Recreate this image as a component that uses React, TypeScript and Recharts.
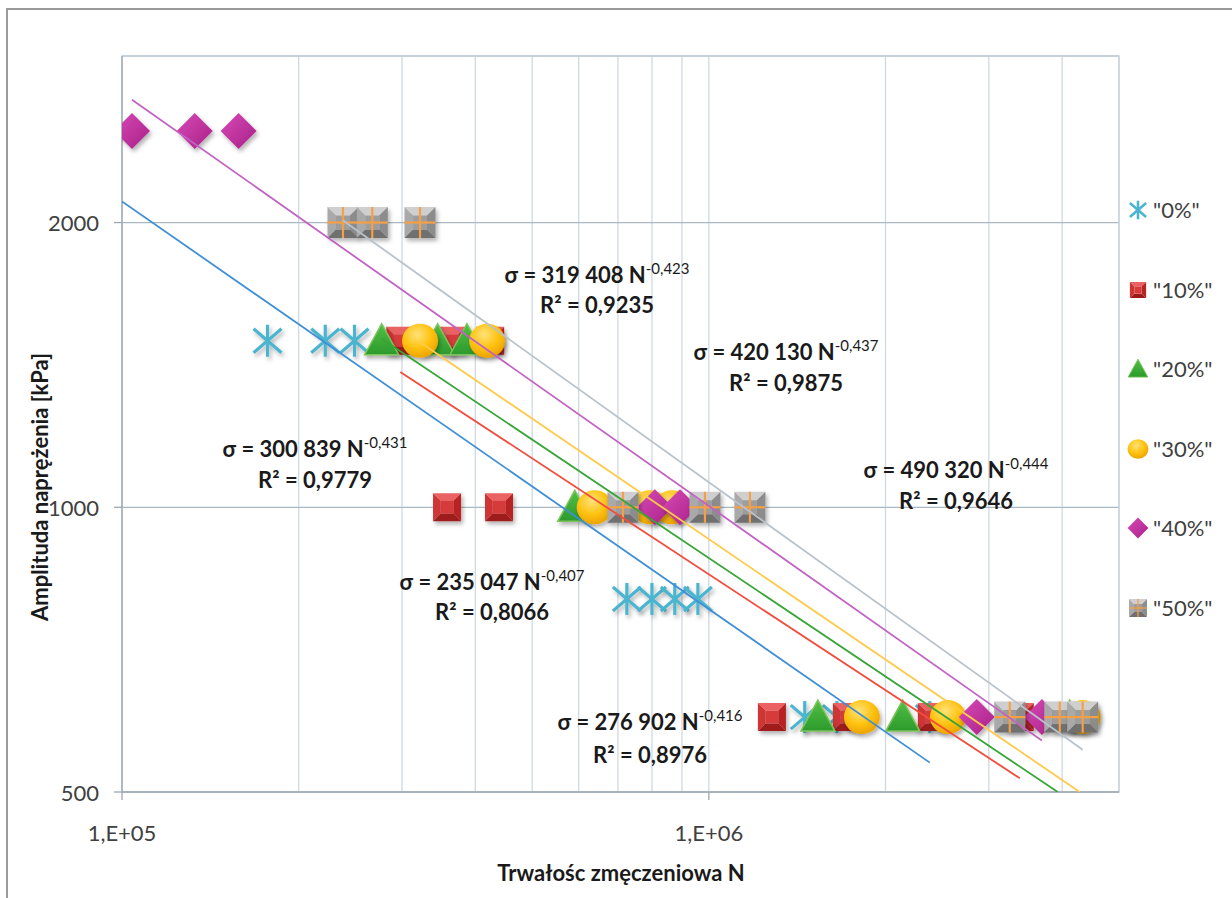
import React from 'react';
import { ScatterChart, Scatter, XAxis, YAxis, CartesianGrid, ReferenceArea } from 'recharts';

// ---------- data ----------
const seriesNames = ['"0%"', '"10%"', '"20%"', '"30%"', '"40%"', '"50%"'];

const p0 = [
  { n: 177000, s: 1500 }, { n: 222000, s: 1500 }, { n: 249000, s: 1500 },
  { n: 725000, s: 800 }, { n: 800000, s: 800 }, { n: 875000, s: 800 }, { n: 958000, s: 800 },
  { n: 1457000, s: 600 }, { n: 1653000, s: 600 }, { n: 2380000, s: 600 },
];
const p10 = [
  { n: 298000, s: 1500 }, { n: 365000, s: 1500 }, { n: 424000, s: 1500 },
  { n: 358000, s: 1000 }, { n: 439000, s: 1000 },
  { n: 1281000, s: 600 }, { n: 1719000, s: 600 }, { n: 2399000, s: 600 }, { n: 3387000, s: 600 },
];
const p20 = [
  { n: 277000, s: 1500 }, { n: 345000, s: 1500 }, { n: 387000, s: 1500 },
  { n: 591000, s: 1000 },
  { n: 1534000, s: 600 }, { n: 2140000, s: 600 }, { n: 4121000, s: 600 },
];
const p30 = [
  { n: 322000, s: 1500 }, { n: 419000, s: 1500 },
  { n: 639000, s: 1000 }, { n: 793000, s: 1000 }, { n: 865000, s: 1000 },
  { n: 1823000, s: 600 }, { n: 2555000, s: 600 }, { n: 4336000, s: 600 },
];
const p40 = [
  { n: 104000, s: 2500 }, { n: 133000, s: 2500 }, { n: 158000, s: 2500 },
  { n: 809000, s: 1000 }, { n: 893000, s: 1000 },
  { n: 2861000, s: 600 }, { n: 3694000, s: 600 },
];
const p50 = [
  { n: 238000, s: 2000 }, { n: 267000, s: 2000 }, { n: 322000, s: 2000 },
  { n: 714000, s: 1000 }, { n: 985000, s: 1000 }, { n: 1175000, s: 1000 },
  { n: 3257000, s: 600 }, { n: 3963000, s: 600 }, { n: 4336000, s: 600 },
];

// power trendlines sigma = A * N^-B
const trendA = [300839, 235047, 276902, 319408, 420130, 490320];
const trendB = [0.431, 0.407, 0.416, 0.423, 0.437, 0.444];
const trendR2 = ['0,9779', '0,8066', '0,8976', '0,9235', '0,9875', '0,9646'];
const trendA_text = ['300 839', '235 047', '276 902', '319 408', '420 130', '490 320'];
const trendB_text = ['-0,431', '-0,407', '-0,416', '-0,423', '-0,437', '-0,444'];
const backcast0 = 100000; // 0% trendline forecast backward to 1E+05

const xTicks = [100000, 200000, 300000, 400000, 500000, 600000, 700000, 800000, 900000,
  1000000, 2000000, 3000000, 4000000, 5000000];
const yTicks = [500, 1000, 2000];
const X_MIN = 100000, X_MAX = 5000000, Y_MIN = 500, Y_MAX = 3000;

// ---------- styles ----------
const FONT = "Lato, 'Noto Sans', sans-serif";
const trendColors = ['#3f8fd6', '#f24d3c', '#35a535', '#ffc94a', '#c262c4', '#b9c2ca'];
const allSeries = [p0, p10, p20, p30, p40, p50];

function trendLine(pts: { n: number; s: number }[], a: number, b: number, start?: number) {
  const ns = pts.map((p) => p.n);
  const n0 = start ?? Math.min(...ns);
  const nFloor = Math.pow(a / Y_MIN, 1 / b);
  const n1 = Math.min(Math.max(...ns), nFloor);
  return [
    { n: n0, s: a * Math.pow(n0, -b) },
    { n: n1, s: a * Math.pow(n1, -b) },
  ];
}
const trends = allSeries.map((pts, i) => trendLine(pts, trendA[i], trendB[i], i === 0 ? backcast0 : undefined));

// ---------- marker shapes ----------
const Star = ({ cx, cy, k = 1 }: any) => (
  <g filter={k === 1 ? 'url(#shadow)' : undefined} stroke="#4bb5cf" strokeWidth={3.2 * (k === 1 ? 1 : 0.8)} strokeLinecap="butt">
    <line x1={cx} y1={cy - 16 * k} x2={cx} y2={cy + 16 * k} />
    <line x1={cx - 14 * k} y1={cy - 12 * k} x2={cx + 14 * k} y2={cy + 12 * k} />
    <line x1={cx - 14 * k} y1={cy + 12 * k} x2={cx + 14 * k} y2={cy - 12 * k} />
  </g>
);

const Pyramid = ({ cx, cy, h, cols }: any) => {
  const i = h * 0.45;
  return (
    <g>
      <polygon points={`${cx - h},${cy - h} ${cx + h},${cy - h} ${cx + i},${cy - i} ${cx - i},${cy - i}`} fill={cols[0]} />
      <polygon points={`${cx - h},${cy - h} ${cx - i},${cy - i} ${cx - i},${cy + i} ${cx - h},${cy + h}`} fill={cols[1]} />
      <polygon points={`${cx + h},${cy - h} ${cx + i},${cy - i} ${cx + i},${cy + i} ${cx + h},${cy + h}`} fill={cols[2]} />
      <polygon points={`${cx - h},${cy + h} ${cx + h},${cy + h} ${cx + i},${cy + i} ${cx - i},${cy + i}`} fill={cols[3]} />
      <rect x={cx - i} y={cy - i} width={2 * i} height={2 * i} fill={cols[4]} />
    </g>
  );
};

const RedSq = ({ cx, cy, k = 1 }: any) => (
  <g filter={k === 1 ? 'url(#shadow)' : undefined}>
    <Pyramid cx={cx} cy={cy} h={14 * k} cols={['#ea6262', '#cf3434', '#b82424', '#9e1a1a', '#d63a3a']} />
  </g>
);

const Tri = ({ cx, cy, k = 1 }: any) => (
  <polygon
    filter={k === 1 ? 'url(#shadow)' : undefined}
    points={`${cx},${cy - 17 * k} ${cx + 17 * k},${cy + 14 * k} ${cx - 17 * k},${cy + 14 * k}`}
    fill="url(#gGreen)" stroke="#7cc45a" strokeWidth={1.5 * k}
  />
);

const Circ = ({ cx, cy, k = 1 }: any) => (
  <ellipse filter={k === 1 ? 'url(#shadow)' : undefined} cx={cx} cy={cy} rx={18 * k} ry={17 * k} fill="url(#gYellow)" />
);

const Diam = ({ cx, cy, k = 1 }: any) => (
  <polygon
    filter={k === 1 ? 'url(#shadow)' : undefined}
    points={`${cx},${cy - 18 * k} ${cx + 18 * k},${cy} ${cx},${cy + 18 * k} ${cx - 18 * k},${cy}`}
    fill="url(#gMag)"
  />
);

const GraySq = ({ cx, cy, k = 1 }: any) => {
  const h = 15.5 * k;
  return (
    <g filter={k === 1 ? 'url(#shadow)' : undefined}>
      <Pyramid cx={cx} cy={cy} h={h} cols={['#cfcfcf', '#a9a9a9', '#8c8c8c', '#6f6f6f', '#9d9d9d']} />
      <line x1={cx - h} x2={cx + h} y1={cy} y2={cy} stroke="#f5a047" strokeWidth={2.2 * k} />
      <line x1={cx} x2={cx} y1={cy - h} y2={cy + h} stroke="#f5a047" strokeWidth={2.2 * k} />
    </g>
  );
};

const markerShapes = [Star, RedSq, Tri, Circ, Diam, GraySq];

// ---------- ticks ----------
const XTick = (props: any) => {
  const { x, y, payload } = props;
  const v = payload.value;
  const e = Math.round(Math.log10(v));
  if (Math.abs(Math.pow(10, e) - v) > 1) return <g />;
  return (
    <g>
      <line x1={x} x2={x} y1={y} y2={y + 8} stroke="#9ea7b0" strokeWidth={1.3} />
      <text x={x} y={y + 40} textAnchor="middle" dominantBaseline="central" fill="#404040" fontSize={22} fontFamily={FONT}>
        {`1,E+${String(e).padStart(2, '0')}`}
      </text>
    </g>
  );
};

const YTick = (props: any) => {
  const { x, y, payload } = props;
  return (
    <g>
      <line x1={x - 8} x2={x} y1={y} y2={y} stroke="#9ea7b0" strokeWidth={1.3} />
      <text x={x - 23} y={y} textAnchor="end" dominantBaseline="central" fill="#404040" fontSize={22} fontFamily={FONT}>
        {payload.value}
      </text>
    </g>
  );
};

// ---------- equation label layout (pixel positions of text lines) ----------
const eqPos = [
  { x: 315, y1: 449, y2: 480 },
  { x: 492, y1: 582, y2: 612 },
  { x: 650, y1: 722, y2: 755 },
  { x: 597, y1: 275, y2: 305 },
  { x: 786, y1: 352, y2: 383 },
  { x: 956, y1: 470, y2: 501 },
];

const legendIconsK = 0.58;

export default function App() {
  return (
    <div style={{ position: 'absolute', left: 0, top: 0, width: 1232, height: 898, background: '#fff', overflow: 'hidden', fontFamily: FONT }}>
      <svg width={0} height={0} style={{ position: 'absolute' }}>
        <defs>
          <filter id="shadow" x="-40%" y="-40%" width="190%" height="190%">
            <feDropShadow dx="2" dy="3" stdDeviation="2" floodColor="#000" floodOpacity="0.3" />
          </filter>
          <linearGradient id="gGreen" x1="0" y1="0" x2="0" y2="1">
            <stop offset="0" stopColor="#52c044" />
            <stop offset="1" stopColor="#2c9a2c" />
          </linearGradient>
          <radialGradient id="gYellow" cx="0.42" cy="0.32" r="0.7">
            <stop offset="0" stopColor="#ffe27a" />
            <stop offset="0.55" stopColor="#ffc312" />
            <stop offset="1" stopColor="#eba200" />
          </radialGradient>
          <linearGradient id="gMag" x1="0" y1="0" x2="1" y2="1">
            <stop offset="0" stopColor="#d84ab6" />
            <stop offset="1" stopColor="#a82088" />
          </linearGradient>
        </defs>
      </svg>

      {/* outer chart frame */}
      <div style={{ position: 'absolute', left: 6, top: 8, width: 1240, height: 900, borderLeft: '2px solid #9a9a9a', borderTop: '2px solid #9a9a9a' }} />

      <div style={{ position: 'absolute', left: 0, top: 0 }}>
        <ScatterChart width={1232} height={898} margin={{ top: 56, right: 113, bottom: 56, left: 0 }}>
          <CartesianGrid horizontal={false} stroke="#cfd9e1" strokeWidth={1.3} />
          <CartesianGrid vertical={false} stroke="#aab8c4" strokeWidth={1.3} />
          <ReferenceArea x1={X_MIN} x2={X_MAX} y1={Y_MIN} y2={Y_MAX} fill="none" stroke="#c9d3db" strokeWidth={1.3} ifOverflow="visible" />
          <XAxis
            dataKey="n" type="number" scale="log" domain={[X_MIN, X_MAX]} ticks={xTicks} interval={0}
            allowDataOverflow height={50} tickSize={0} tickMargin={0} tick={<XTick />}
            axisLine={{ stroke: '#9ea7b0', strokeWidth: 1.3 }} tickLine={false}
          />
          <YAxis
            dataKey="s" type="number" scale="log" domain={[Y_MIN, Y_MAX]} ticks={yTicks} interval={0}
            allowDataOverflow width={122} tickSize={0} tickMargin={0} tick={<YTick />}
            axisLine={{ stroke: '#9ea7b0', strokeWidth: 1.3 }} tickLine={false}
          />
          {allSeries.map((pts, i) => {
            const Shape = markerShapes[i];
            return (
              <Scatter key={'m' + i} name={seriesNames[i]} data={pts} isAnimationActive={false}
                shape={(p: any) => <Shape cx={p.cx} cy={p.cy} />} />
            );
          })}
          {trends.map((t, i) => (
            <Scatter key={'t' + i} data={t} isAnimationActive={false}
              line={{ stroke: trendColors[i], strokeWidth: 1.8 }} shape={() => <g />} legendType="none" />
          ))}
        </ScatterChart>
      </div>

      {/* equation labels */}
      {eqPos.map((p, i) => (
        <React.Fragment key={'eq' + i}>
          <div style={{ position: 'absolute', left: p.x - 150, width: 300, top: p.y1 - 15, height: 30, lineHeight: '30px', textAlign: 'center', fontWeight: 700, fontSize: 22, color: '#1a1a1a', whiteSpace: 'nowrap' }}>
            σ = {trendA_text[i]} N<span style={{ fontSize: 15, fontWeight: 400, position: 'relative', top: -9 }}>{trendB_text[i]}</span>
          </div>
          <div style={{ position: 'absolute', left: p.x - 150, width: 300, top: p.y2 - 15, height: 30, lineHeight: '30px', textAlign: 'center', fontWeight: 700, fontSize: 22, color: '#1a1a1a', whiteSpace: 'nowrap' }}>
            R² = {trendR2[i]}
          </div>
        </React.Fragment>
      ))}

      {/* axis titles */}
      <div style={{ position: 'absolute', left: 40 - 200, top: 487 - 15, width: 400, height: 30, lineHeight: '30px', textAlign: 'center', transform: 'rotate(-90deg)', fontWeight: 700, fontSize: 22, color: '#1a1a1a', whiteSpace: 'nowrap' }}>
        Amplituda naprężenia [kPa]
      </div>
      <div style={{ position: 'absolute', left: 621 - 200, top: 873 - 15, width: 400, height: 30, lineHeight: '30px', textAlign: 'center', fontWeight: 700, fontSize: 22, color: '#1a1a1a', whiteSpace: 'nowrap' }}>
        Trwałośc zmęczeniowa N
      </div>

      {/* legend */}
      {seriesNames.map((name, i) => {
        const Shape = markerShapes[i];
        const cy = 210 + i * 79.6;
        return (
          <div key={'lg' + i} style={{ position: 'absolute', left: 1126, top: cy - 15, height: 30, display: 'flex', alignItems: 'center' }}>
            <svg width={24} height={30} style={{ display: 'block' }}>
              <Shape cx={12} cy={15} k={legendIconsK} />
            </svg>
            <span style={{ marginLeft: 3, fontSize: 22, color: '#404040', lineHeight: '30px' }}>{name}</span>
          </div>
        );
      })}
    </div>
  );
}
